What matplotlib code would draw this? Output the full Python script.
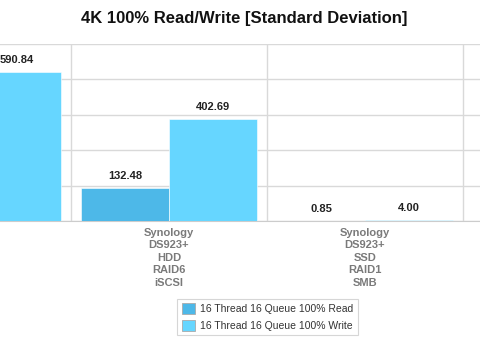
import matplotlib
matplotlib.use("Agg")
import matplotlib.pyplot as plt
import numpy as np

plt.rcParams["font.family"] = ["Liberation Sans", "DejaVu Sans"]

categories = ["Synology\nDS923+\nHDD\nRAID6\nSMB",
              "Synology\nDS923+\nHDD\nRAID6\niSCSI",
              "Synology\nDS923+\nSSD\nRAID1\nSMB",
              "Synology\nDS923+\nSSD\nRAID1\niSCSI"]
read_vals = [250.00, 132.48, 0.85, 1.20]
write_vals = [590.84, 402.69, 4.00, 3.00]
series_names = ["16 Thread 16 Queue 100% Read",
                "16 Thread 16 Queue 100% Write"]
y_ticks = [0, 140, 280, 420, 560, 700]

read_color = "#4db8e8"
write_color = "#66d6ff"


def draw_chart():
    fig = plt.figure(figsize=(4.8, 3.4), dpi=100)
    # plot area: x 0..480 px, y 44..221 px
    ax = fig.add_axes([0, 119 / 340, 1, 177 / 340])

    x = np.arange(len(categories))
    w = 0.449
    b1 = ax.bar(x - w / 2, read_vals, w, color=read_color,
                edgecolor="white", linewidth=0.4, zorder=3,
                label=series_names[0])
    b2 = ax.bar(x + w / 2, write_vals, w, color=write_color,
                edgecolor="white", linewidth=0.4, zorder=3,
                label=series_names[1])

    for bars, vals in ((b1, read_vals), (b2, write_vals)):
        for r, v in zip(bars, vals):
            ax.annotate("%.2f" % v,
                        (r.get_x() + r.get_width() / 2, v),
                        xytext=(0, 5), textcoords="offset points",
                        ha="center", va="bottom", fontsize=8,
                        fontweight="bold", color="#222222",
                        annotation_clip=True, zorder=4)

    ax.set_ylim(0, 700)
    ax.set_yticks(y_ticks)
    ax.set_yticklabels([])
    ax.tick_params(axis="y", length=0)

    ax.set_xticks(x)
    ax.set_xticklabels(categories, fontsize=8, fontweight="bold",
                       color="#7a7a7a", linespacing=1.3)
    ax.tick_params(axis="x", length=0, pad=5)
    # the chart is a crop of a wider one: show only this window
    ax.set_xlim(1 - 169 / 196, 1 + (480 - 169) / 196)

    ax.yaxis.grid(True, color="#d9d9d9", linewidth=1, zorder=0)
    for xb in [0.5, 1.5, 2.5]:
        ax.axvline(xb, color="#d9d9d9", linewidth=1, zorder=0)
    for s in ["left", "right", "top"]:
        ax.spines[s].set_visible(False)
    ax.spines["bottom"].set_color("#cccccc")

    fig.text(244.5 / 480, 1 - 19 / 340,
             "4K 100% Read/Write [Standard Deviation]",
             ha="center", va="center", fontsize=12, fontweight="bold",
             color="#111111")

    leg = fig.legend(handles=[b1, b2], loc="center",
                     bbox_to_anchor=(267.5 / 480, 1 - 317 / 340),
                     fontsize=7.5, frameon=True, fancybox=False,
                     edgecolor="#cccccc", handlelength=1.3,
                     handleheight=1.2, handletextpad=0.45,
                     borderpad=0.45, labelspacing=0.55)
    for h in leg.legend_handles:
        h.set_edgecolor("#aaaaaa")
        h.set_linewidth(0.6)
    for t in leg.get_texts():
        t.set_color("#333333")
    leg.get_frame().set_linewidth(0.8)
    return fig


def main():
    fig = draw_chart()
    fig.savefig("out.png", dpi=100)
    plt.close(fig)


main()
